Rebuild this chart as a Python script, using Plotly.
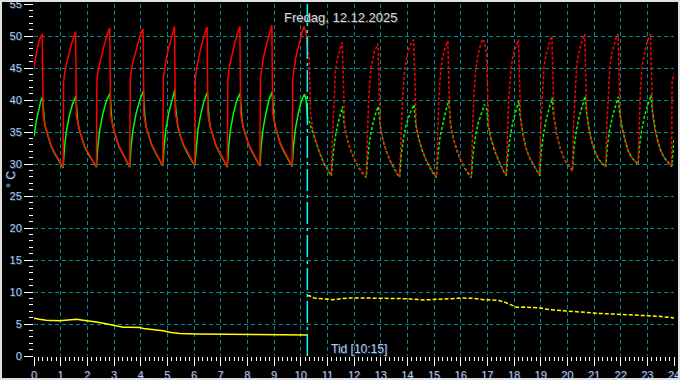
import plotly.graph_objects as go

# ---------------- data (hours, °C) ----------------
# measured flow temperature (red, solid)
RS_T = [0.00, 0.04, 0.10, 0.17, 0.24, 0.31, 0.34, 0.42, 0.51, 0.63, 0.76, 0.88, 1.00, 1.09,
        1.11, 1.16, 1.24, 1.30, 1.37, 1.45, 1.52, 1.56, 1.59, 1.67, 1.76, 1.88, 2.01, 2.13, 2.25, 2.34,
        2.36, 2.41, 2.49, 2.56, 2.64, 2.72, 2.80, 2.84, 2.87, 2.95, 3.04, 3.16, 3.29, 3.41, 3.52, 3.59,
        3.61, 3.66, 3.74, 3.81, 3.89, 3.97, 4.05, 4.09, 4.12, 4.20, 4.29, 4.41, 4.54, 4.66, 4.77, 4.83,
        4.85, 4.90, 4.97, 5.03, 5.10, 5.17, 5.23, 5.27, 5.30, 5.38, 5.47, 5.59, 5.72, 5.84, 5.96, 6.03,
        6.05, 6.10, 6.17, 6.24, 6.31, 6.38, 6.45, 6.49, 6.52, 6.60, 6.69, 6.81, 6.94, 7.06, 7.18, 7.25,
        7.27, 7.32, 7.40, 7.46, 7.54, 7.61, 7.68, 7.72, 7.75, 7.83, 7.92, 8.04, 8.17, 8.29, 8.40, 8.47,
        8.49, 8.54, 8.61, 8.68, 8.75, 8.82, 8.88, 8.92, 8.95, 9.03, 9.12, 9.24, 9.37, 9.49, 9.61, 9.68,
        9.70, 9.75, 9.82, 9.89, 9.96, 10.03, 10.09, 10.13, 10.20, 10.25]
RS_V = [45.0, 46.3, 47.6, 48.9, 49.8, 50.3, 37.6, 35.9, 34.6, 33.0, 31.9, 31.0, 30.1, 29.5,
        42.8, 44.5, 46.0, 47.1, 48.2, 49.3, 50.3, 50.7, 37.4, 35.8, 34.5, 33.0, 31.9, 31.0, 30.1, 29.6,
        43.0, 44.8, 46.3, 47.5, 48.7, 49.9, 50.9, 51.3, 37.8, 36.0, 34.7, 33.1, 32.0, 31.0, 30.2, 29.6,
        43.2, 44.9, 46.4, 47.5, 48.7, 49.9, 50.8, 51.1, 37.6, 35.9, 34.6, 33.1, 32.0, 31.0, 30.3, 29.8,
        43.4, 45.2, 46.7, 47.8, 49.0, 50.2, 51.1, 51.5, 37.9, 36.1, 34.7, 33.2, 32.1, 31.1, 30.3, 29.9,
        43.3, 45.0, 46.6, 47.8, 49.0, 50.2, 51.0, 51.4, 37.7, 36.0, 34.6, 33.1, 32.0, 31.0, 30.1, 29.6,
        43.2, 45.0, 46.6, 47.8, 49.1, 50.2, 51.1, 51.5, 37.8, 36.0, 34.7, 33.2, 32.1, 31.1, 30.3, 29.8,
        43.4, 45.2, 46.8, 48.0, 49.2, 50.4, 51.3, 51.7, 37.9, 36.1, 34.7, 33.2, 32.1, 31.1, 30.2, 29.7,
        43.3, 45.1, 46.7, 47.9, 49.1, 50.3, 51.1, 51.5, 50.6, 48.3]

# measured return temperature (green, solid)
GS_T = [0.00, 0.08, 0.17, 0.25, 0.32, 0.35, 0.38, 0.43, 0.52, 0.64, 0.77, 0.89, 1.01, 1.09,
        1.14, 1.21, 1.32, 1.45, 1.57, 1.60, 1.63, 1.68, 1.77, 1.89, 2.02, 2.14, 2.26, 2.34,
        2.39, 2.46, 2.58, 2.71, 2.85, 2.88, 2.91, 2.96, 3.05, 3.17, 3.30, 3.42, 3.53, 3.59,
        3.64, 3.71, 3.83, 3.96, 4.10, 4.13, 4.16, 4.21, 4.30, 4.42, 4.55, 4.67, 4.78, 4.83,
        4.88, 4.95, 5.06, 5.17, 5.28, 5.31, 5.34, 5.39, 5.48, 5.60, 5.73, 5.85, 5.97, 6.03,
        6.08, 6.15, 6.26, 6.38, 6.50, 6.53, 6.56, 6.61, 6.70, 6.82, 6.95, 7.07, 7.19, 7.25,
        7.30, 7.37, 7.48, 7.60, 7.73, 7.76, 7.79, 7.84, 7.93, 8.05, 8.18, 8.30, 8.41, 8.47,
        8.52, 8.59, 8.70, 8.81, 8.93, 8.96, 8.99, 9.04, 9.13, 9.25, 9.38, 9.50, 9.62, 9.68,
        9.73, 9.80, 9.91, 10.02, 10.14, 10.20, 10.25]
GS_V = [34.3, 36.6, 38.3, 39.8, 40.5, 38.4, 37.0, 35.7, 34.4, 32.8, 31.7, 30.8, 29.9, 29.4,
        32.5, 35.0, 37.5, 39.4, 40.6, 38.5, 37.1, 35.6, 34.3, 32.8, 31.7, 30.8, 29.9, 29.5,
        32.6, 35.2, 37.8, 39.8, 41.1, 38.7, 37.3, 35.8, 34.5, 32.9, 31.8, 30.8, 30.0, 29.5,
        32.7, 35.3, 37.9, 39.9, 41.4, 38.6, 37.2, 35.7, 34.4, 32.9, 31.8, 30.8, 30.1, 29.7,
        32.9, 35.5, 38.1, 40.1, 41.6, 38.8, 37.4, 35.9, 34.5, 33.0, 31.9, 30.9, 30.1, 29.8,
        32.8, 35.4, 37.9, 39.9, 41.2, 38.5, 37.2, 35.8, 34.4, 32.9, 31.8, 30.8, 29.9, 29.5,
        32.8, 35.4, 37.9, 39.9, 41.1, 38.6, 37.3, 35.8, 34.5, 33.0, 31.9, 30.9, 30.1, 29.7,
        32.9, 35.5, 38.0, 40.0, 41.3, 38.7, 37.4, 35.9, 34.5, 33.0, 31.9, 30.9, 30.0, 29.6,
        32.8, 35.4, 37.9, 39.8, 40.9, 40.2, 37.5]

# forecast flow temperature (red, dashed)
RF_T = [10.25, 10.32, 10.37, 10.45, 10.56, 10.70, 10.85, 11.00, 11.15,
        11.19, 11.24, 11.30, 11.37, 11.45, 11.52, 11.56, 11.59, 11.65, 11.74, 11.87, 12.02, 12.17, 12.32, 12.46,
        12.50, 12.55, 12.62, 12.69, 12.77, 12.85, 12.90, 12.93, 12.99, 13.08, 13.20, 13.33, 13.47, 13.60, 13.71,
        13.76, 13.82, 13.90, 13.98, 14.07, 14.16, 14.24, 14.27, 14.33, 14.42, 14.54, 14.68, 14.82, 14.96, 15.09,
        15.13, 15.18, 15.25, 15.32, 15.40, 15.47, 15.52, 15.55, 15.61, 15.71, 15.84, 15.98, 16.12, 16.27, 16.40,
        16.44, 16.49, 16.56, 16.64, 16.72, 16.81, 16.90, 16.97, 17.00, 17.05, 17.14, 17.26, 17.38, 17.50, 17.61, 17.71,
        17.75, 17.80, 17.88, 17.95, 18.02, 18.10, 18.17, 18.20, 18.25, 18.33, 18.44, 18.56, 18.69, 18.83, 18.96,
        19.00, 19.05, 19.12, 19.20, 19.27, 19.35, 19.42, 19.45, 19.50, 19.58, 19.69, 19.81, 19.94, 20.07, 20.19,
        20.23, 20.28, 20.35, 20.42, 20.50, 20.58, 20.65, 20.68, 20.73, 20.81, 20.92, 21.04, 21.17, 21.31, 21.44,
        21.48, 21.53, 21.60, 21.67, 21.75, 21.83, 21.90, 21.93, 21.98, 22.06, 22.16, 22.27, 22.39, 22.52, 22.65,
        22.69, 22.74, 22.81, 22.89, 22.97, 23.05, 23.12, 23.15, 23.20, 23.28, 23.39, 23.51, 23.64, 23.78, 23.91,
        23.93, 24.00]
RF_V = [48.3, 46.5, 38.0, 35.5, 33.7, 31.9, 30.4, 29.2, 28.2,
        34.0, 40.0, 44.3, 46.4, 47.8, 48.6, 49.0, 43.5, 35.8, 34.0, 32.3, 30.8, 29.6, 28.7, 28.0,
        34.0, 40.0, 44.3, 46.3, 47.6, 48.4, 48.8, 43.3, 35.7, 33.9, 32.2, 30.8, 29.6, 28.7, 28.0,
        34.2, 40.2, 44.6, 46.8, 48.1, 49.0, 49.4, 43.6, 35.9, 34.1, 32.4, 30.9, 29.7, 28.7, 28.0,
        34.1, 40.1, 44.5, 46.6, 47.9, 48.8, 49.2, 43.5, 35.9, 34.1, 32.4, 30.9, 29.7, 28.7, 28.0,
        34.2, 40.2, 44.6, 46.8, 48.2, 49.5, 49.0, 47.0, 43.0, 35.8, 34.0, 32.4, 31.0, 29.9, 28.9, 28.3,
        35.0, 40.0, 44.5, 46.6, 47.8, 48.8, 49.4, 44.0, 37.0, 34.8, 32.6, 31.2, 30.2, 29.1, 28.3,
        35.5, 40.5, 45.0, 47.0, 48.3, 49.3, 50.0, 44.5, 37.3, 35.0, 33.0, 31.5, 30.4, 29.6, 29.0,
        36.0, 41.0, 45.3, 47.3, 48.6, 49.6, 50.3, 45.0, 37.6, 35.3, 33.4, 31.9, 30.8, 30.1, 29.6,
        36.3, 41.2, 45.4, 47.4, 48.7, 49.7, 50.3, 45.0, 37.8, 35.5, 33.7, 32.2, 31.2, 30.5, 30.0,
        36.5, 41.3, 45.5, 47.5, 48.8, 49.7, 50.3, 45.0, 37.7, 35.4, 33.5, 32.0, 31.0, 30.2, 29.7,
        42.9, 44.2]

# forecast return temperature (green, dashed)
GF_T = [10.25, 10.33, 10.40, 10.47, 10.57, 10.71, 10.86, 11.01, 11.15,
        11.21, 11.29, 11.38, 11.47, 11.57, 11.61, 11.66, 11.75, 11.88, 12.03, 12.18, 12.33, 12.46,
        12.52, 12.60, 12.69, 12.79, 12.91, 12.95, 13.00, 13.09, 13.21, 13.34, 13.48, 13.61, 13.71,
        13.77, 13.86, 13.96, 14.10, 14.25, 14.29, 14.34, 14.43, 14.55, 14.69, 14.83, 14.97, 15.09,
        15.15, 15.23, 15.33, 15.44, 15.55, 15.59, 15.64, 15.73, 15.85, 15.99, 16.13, 16.28, 16.40,
        16.46, 16.55, 16.65, 16.77, 16.89, 16.98, 17.02, 17.07, 17.14, 17.26, 17.38, 17.50, 17.62, 17.71,
        17.77, 17.86, 17.96, 18.07, 18.18, 18.22, 18.27, 18.34, 18.45, 18.57, 18.70, 18.84, 18.96,
        19.02, 19.11, 19.21, 19.32, 19.43, 19.47, 19.52, 19.59, 19.70, 19.82, 19.95, 20.08, 20.19,
        20.25, 20.34, 20.44, 20.55, 20.67, 20.71, 20.76, 20.83, 20.93, 21.05, 21.18, 21.32, 21.44,
        21.50, 21.59, 21.69, 21.80, 21.91, 21.95, 22.00, 22.07, 22.17, 22.28, 22.40, 22.53, 22.65,
        22.71, 22.80, 22.90, 23.02, 23.14, 23.18, 23.23, 23.30, 23.40, 23.52, 23.65, 23.79, 23.91,
        23.96, 24.00]
GF_V = [37.5, 36.5, 35.3, 34.6, 33.5, 31.7, 30.2, 29.0, 28.1,
        31.3, 34.0, 36.0, 37.6, 39.0, 37.0, 35.5, 33.8, 32.1, 30.6, 29.4, 28.5, 27.9,
        31.3, 34.0, 36.0, 37.6, 39.0, 37.0, 35.4, 33.7, 32.0, 30.6, 29.4, 28.5, 27.9,
        31.4, 34.1, 36.2, 37.9, 39.3, 37.2, 35.6, 33.9, 32.2, 30.7, 29.5, 28.5, 27.9,
        31.5, 34.3, 36.5, 38.3, 39.9, 37.4, 35.7, 33.9, 32.2, 30.7, 29.5, 28.5, 27.9,
        31.4, 34.2, 36.3, 38.0, 39.3, 38.6, 36.3, 35.4, 33.9, 32.2, 30.9, 29.8, 28.8, 28.2,
        31.6, 34.4, 36.6, 38.3, 39.9, 37.8, 36.3, 34.6, 32.5, 31.1, 30.1, 29.0, 28.2,
        32.0, 34.8, 37.0, 38.8, 40.4, 38.2, 36.6, 34.9, 32.9, 31.4, 30.3, 29.5, 28.9,
        32.5, 35.2, 37.3, 39.1, 40.6, 38.4, 36.8, 35.2, 33.3, 31.8, 30.7, 30.0, 29.5,
        32.8, 35.4, 37.4, 39.1, 40.5, 38.4, 36.9, 35.4, 33.6, 32.1, 31.1, 30.4, 29.9,
        33.0, 35.6, 37.6, 39.4, 40.8, 38.6, 37.0, 35.3, 33.4, 31.9, 30.9, 30.1, 29.6,
        31.8, 33.8]

# outdoor temperature (yellow) measured / forecast
YS_T = [0.00, 0.03, 0.20, 0.46, 0.96, 1.20, 1.46, 1.60, 1.84, 2.10, 2.34, 2.60, 2.84, 3.10, 3.34,
        3.60, 3.96, 4.10, 4.34, 4.60, 4.84, 5.09, 5.46, 6.09, 7.00, 8.00, 9.00, 9.60, 10.25]
YS_V = [5.8, 5.9, 5.75, 5.6, 5.5, 5.6, 5.8, 5.75, 5.6, 5.5, 5.3, 5.1, 4.9, 4.7, 4.5,
        4.5, 4.45, 4.3, 4.2, 4.1, 3.95, 3.7, 3.5, 3.45, 3.4, 3.35, 3.35, 3.3, 3.3]
YF_T = [10.25, 10.34, 10.50, 11.00, 11.20, 11.50, 11.80, 12.40, 13.00, 13.60, 14.00, 14.60, 15.00,
        15.50, 16.10, 16.50, 16.85, 17.20, 17.47, 17.66, 17.85, 18.10, 18.36, 18.96, 19.34, 19.96,
        20.71, 21.21, 22.08, 22.71, 23.46, 24.00]
YF_V = [9.4, 9.4, 9.06, 8.85, 8.8, 8.95, 9.06, 9.06, 9.06, 9.0, 8.95, 8.75, 8.85,
        8.95, 9.06, 9.0, 8.8, 8.75, 8.64, 8.4, 8.0, 7.6, 7.65, 7.5, 7.23, 7.08,
        6.8, 6.66, 6.5, 6.3, 6.2, 5.95]

NOW_H = 10.25
TITLE = "Fredag, 12.12.2025"
NOW_LABEL = "Tid [10:15]"
Y_LABEL = "° C"

# ---------------- figure ----------------
W, H = 680, 380
ML, MR, MT, MB = 34, 6, 4, 24
PW, PH = W - ML - MR, H - MT - MB

RED, GREEN, YELLOW = "#FF0000", "#00FF00", "#FFFF00"
GRID = "#008C8C"
LABEL_COL = "#B8CCE0"
SHADOW = "1px 1px 0px #203870"
TICKFONT = dict(family="Liberation Sans Narrow, Arial Narrow, Liberation Sans, sans-serif",
                size=11, color=LABEL_COL, shadow=SHADOW)

fig = go.Figure()
# green first so the red flow curve lies on top where both decay together
fig.add_trace(go.Scatter(x=GS_T, y=GS_V, mode="lines", line=dict(color=GREEN, width=1.5)))
fig.add_trace(go.Scatter(x=RS_T, y=RS_V, mode="lines", line=dict(color=RED, width=1.5)))
fig.add_trace(go.Scatter(x=GF_T, y=GF_V, mode="lines", line=dict(color=GREEN, width=1.5, dash="3px,2px")))
fig.add_trace(go.Scatter(x=RF_T, y=RF_V, mode="lines", line=dict(color=RED, width=1.5, dash="3px,2px")))
fig.add_trace(go.Scatter(x=YS_T, y=YS_V, mode="lines", line=dict(color=YELLOW, width=1.5)))
fig.add_trace(go.Scatter(x=YF_T, y=YF_V, mode="lines", line=dict(color=YELLOW, width=1.5, dash="4px,2px")))

fig.add_shape(type="line", xref="x", yref="y", x0=NOW_H, x1=NOW_H, y0=0, y1=55,
              line=dict(color="#00FFFF", width=1.5, dash="22px,4px,3px,4px"), layer="above")

# outer frame
fig.add_shape(type="rect", xref="paper", yref="paper",
              x0=(1 - ML) / PW, x1=(W - 1 - ML) / PW,
              y0=-(MB - 1) / PH, y1=1 + (MT - 1) / PH,
              line=dict(color="#E0E0E0", width=2), fillcolor="rgba(0,0,0,0)", layer="above")

fig.add_annotation(text=TITLE, xref="paper", yref="paper", x=(340 - ML) / PW, y=(H - MB - 17) / PH,
                   showarrow=False, xanchor="center", yanchor="middle",
                   font=dict(family="Liberation Sans, Arial, sans-serif", size=13, color="#D8D8D8",
                             shadow="1px 1px 0px #404040"))
fig.add_annotation(text=NOW_LABEL, xref="x", yref="y", x=12.17, y=1.1,
                   showarrow=False, xanchor="center", yanchor="middle",
                   font=dict(family="Liberation Sans, Arial, sans-serif", size=12, color=LABEL_COL,
                             shadow=SHADOW))
fig.add_annotation(text=Y_LABEL, xref="paper", yref="paper", x=(11 - ML) / PW, y=0.5,
                   showarrow=False, textangle=-90, xanchor="center", yanchor="middle",
                   font=dict(family="Liberation Sans, Arial, sans-serif", size=12, color=LABEL_COL,
                             shadow=SHADOW))

fig.update_layout(
    width=W, height=H, margin=dict(l=ML, r=MR, t=MT, b=MB, autoexpand=False),
    paper_bgcolor="#000000", plot_bgcolor="#000000",
    showlegend=False, hovermode=False,
)
fig.update_xaxes(range=[0, 24], tickmode="linear", tick0=0, dtick=1, automargin=False,
                 ticks="outside", ticklen=9, tickwidth=1, tickcolor="#FFFFFF",
                 ticklabeloverflow="allow",
                 showgrid=True, gridcolor=GRID, gridwidth=1, griddash="4px,3px",
                 zeroline=False, showline=False, tickfont=TICKFONT,
                 minor=dict(tick0=0, dtick=1 / 6, ticks="outside", ticklen=4,
                            tickcolor="#FFFFFF", tickwidth=1, showgrid=False))
fig.update_yaxes(range=[0, 55], tickmode="linear", tick0=0, dtick=5, automargin=False,
                 ticks="outside", ticklen=9, tickwidth=1, tickcolor="#FFFFFF",
                 ticklabeloverflow="allow",
                 showgrid=True, gridcolor=GRID, gridwidth=1, griddash="4px,3px",
                 zeroline=False, showline=False, tickfont=TICKFONT,
                 minor=dict(tick0=0, dtick=1, ticks="outside", ticklen=4,
                            tickcolor="#FFFFFF", tickwidth=1, showgrid=False))

fig.write_html(
    "out.html",
    config={"displayModeBar": False},
    post_script="document.body.style.margin='0px';document.body.style.padding='0px';"
                "document.body.style.overflow='hidden';document.body.style.background='#000';",
)
